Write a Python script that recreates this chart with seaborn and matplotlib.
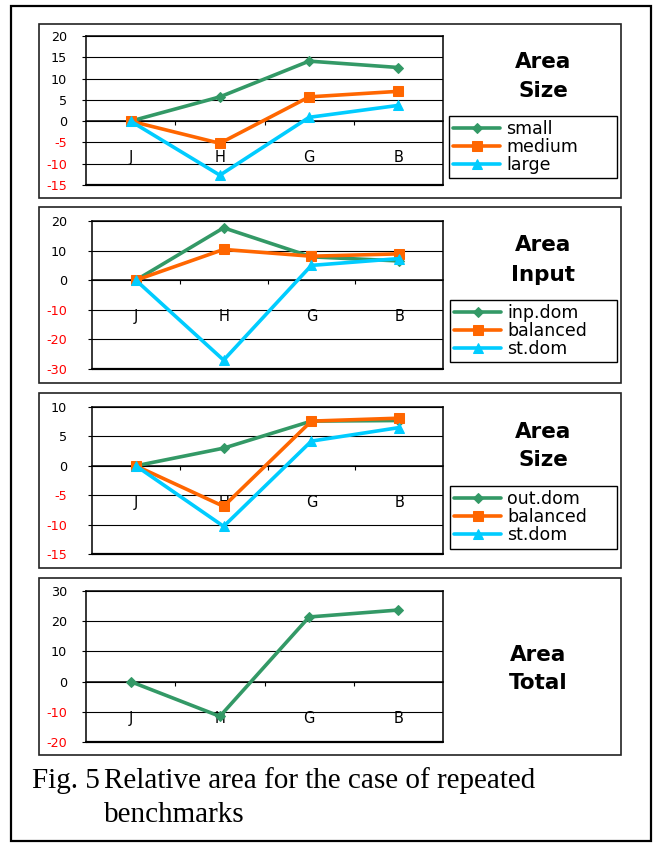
import numpy as np
import pandas as pd
import matplotlib
matplotlib.use("Agg")
import matplotlib.pyplot as plt
import seaborn as sns
from matplotlib.patches import Rectangle

# ---------------- data ----------------
categories = ["J", "H", "G", "B"]

size_small = [0, 5.7, 14.1, 12.6]
size_medium = [0, -5.2, 5.7, 7.0]
size_large = [0, -12.7, 0.9, 3.7]

input_inp_dom = [0, 17.7, 7.9, 6.5]
input_balanced = [0, 10.4, 8.1, 8.9]
input_st_dom = [0, -27.0, 5.0, 7.3]

output_out_dom = [0, 3.0, 7.6, 7.7]
output_balanced = [0, -6.9, 7.6, 8.1]
output_st_dom = [0, -10.3, 4.2, 6.5]

area_total = [0, -11.5, 21.4, 23.7]

yticks_size = [-15, -10, -5, 0, 5, 10, 15, 20]
yticks_input = [-30, -20, -10, 0, 10, 20]
yticks_output = [-15, -10, -5, 0, 5, 10]
yticks_total = [-20, -10, 0, 10, 20, 30]

titles = [("Area", "Size"), ("Area", "Input"), ("Area", "Size"), ("Area", "Total")]
caption_lead = "Fig. 5"
caption_line1 = "Relative area for the case of repeated"
caption_line2 = "benchmarks"

# ---------------- style ----------------
GREEN, ORANGE, CYAN = "#339966", "#FF6600", "#00CCFF"
sns.set_style("white")
plt.rcParams["font.family"] = ["DejaVu Sans"]
plt.rcParams["text.color"] = "black"
plt.rcParams["xtick.color"] = "black"
plt.rcParams["ytick.color"] = "black"
plt.rcParams["axes.labelcolor"] = "black"
plt.rcParams["axes.edgecolor"] = "black"

W, H = 654, 843
fig = plt.figure(figsize=(W / 100, H / 100), dpi=100)
fig.patch.set_facecolor("white")


def fx(x):
    return x / W


def fy(y):
    return 1 - y / H


def add_axes(l, t, r, b):
    return fig.add_axes([fx(l), fy(b), (r - l) / W, (b - t) / H])


def draw_panel(ax, series, yticks, left_px):
    for name, vals, color, marker, ms in series:
        df = pd.DataFrame({"pos": np.arange(len(categories)), "value": vals})
        sns.lineplot(data=df, x="pos", y="value", ax=ax, color=color,
                     marker=marker, markersize=ms, markeredgecolor=color,
                     markerfacecolor=color, lw=2.6, label=name, sort=False,
                     zorder=4)
    if ax.get_legend() is not None:
        ax.get_legend().remove()
    ax.set_xlim(-0.5, 3.5)
    ax.set_ylim(yticks[0], yticks[-1])
    ax.set_xlabel("")
    ax.set_ylabel("")
    ax.set_yticks(yticks)
    ax.set_yticklabels([str(t) for t in yticks])
    for lbl, t in zip(ax.get_yticklabels(), yticks):
        lbl.set_color("#FF0000" if t < 0 else "black")
    ax.grid(axis="y", color="black", lw=0.8)
    ax.set_axisbelow(True)
    # category axis crossing at zero
    ax.spines["bottom"].set_position(("data", 0))
    for s in ax.spines.values():
        s.set_color("black")
        s.set_linewidth(1.1)
    # bottom edge of the plot-area border
    ax.axhline(yticks[0], color="black", lw=1.6, clip_on=False, zorder=5)
    ax.set_xticks(range(len(categories)))
    ax.set_xticklabels(categories)
    ax.set_xticks([0.5, 1.5, 2.5], minor=True)
    ax.tick_params(axis="x", which="major", bottom=True, length=0, pad=21,
                   labelsize=10.5, labelcolor="black")
    ax.tick_params(axis="x", which="minor", bottom=True, length=3,
                   width=0.8, direction="out")
    ticklen_px = 4
    pad_px = left_px - 67 - ticklen_px
    ax.tick_params(axis="y", left=True, length=3, width=0.8, direction="out",
                   pad=pad_px * 0.72, labelsize=9.2)


def add_legend(ax, box):
    l, t, r, b = box
    handles, labels = ax.get_legend_handles_labels()
    leg = fig.legend(handles, labels, loc="center",
                     bbox_to_anchor=(fx(l), fy(b), (r - l) / W, (b - t) / H),
                     mode="expand", fontsize=12.5, frameon=True,
                     fancybox=False, framealpha=1, edgecolor="black",
                     handlelength=2.7, handletextpad=0.35, labelspacing=0.0,
                     borderpad=0.25, borderaxespad=0, numpoints=1)
    leg.get_frame().set_linewidth(1.0)
    for t in leg.get_texts():
        t.set_color("black")


def add_title(cx, y1, y2, pair):
    fig.text(fx(cx), fy(y1), pair[0], ha="center", va="center",
             fontsize=15.5, fontweight="bold", color="black")
    fig.text(fx(cx), fy(y2), pair[1], ha="center", va="center",
             fontsize=15.5, fontweight="bold", color="black")


# outer frame
fig.add_artist(Rectangle((fx(11), fy(841)), 640 / W, 835 / H, fill=False,
                         edgecolor="black", lw=1.6, transform=fig.transFigure))

panel_boxes = [(39, 24, 621, 198), (39, 207, 621, 383),
               (39, 393, 621, 568), (39, 578, 621, 755)]
for (l, t, r, b) in panel_boxes:
    fig.add_artist(Rectangle((fx(l), fy(b)), (r - l) / W, (b - t) / H,
                             fill=False, edgecolor="#222222", lw=1.2,
                             transform=fig.transFigure))

# panel 1
ax1 = add_axes(86, 36, 443, 185)
draw_panel(ax1, [("small", size_small, GREEN, "D", 5),
                 ("medium", size_medium, ORANGE, "s", 6.5),
                 ("large", size_large, CYAN, "^", 7.5)], yticks_size, 86)
add_legend(ax1, (449, 113, 617, 181))
add_title(543, 62, 91, titles[0])

# panel 2
ax2 = add_axes(92, 221, 443, 369)
draw_panel(ax2, [("inp.dom", input_inp_dom, GREEN, "D", 5),
                 ("balanced", input_balanced, ORANGE, "s", 6.5),
                 ("st.dom", input_st_dom, CYAN, "^", 7.5)], yticks_input, 92)
add_legend(ax2, (450, 297, 617, 365))
add_title(543, 245, 275, titles[1])

# panel 3
ax3 = add_axes(92, 407, 443, 554)
draw_panel(ax3, [("out.dom", output_out_dom, GREEN, "D", 5),
                 ("balanced", output_balanced, ORANGE, "s", 6.5),
                 ("st.dom", output_st_dom, CYAN, "^", 7.5)], yticks_output, 92)
add_legend(ax3, (450, 483, 617, 552))
add_title(543, 432, 460, titles[2])

# panel 4
ax4 = add_axes(86, 591, 443, 742)
draw_panel(ax4, [("total", area_total, GREEN, "D", 5)], yticks_total, 86)
add_title(538, 655, 683, titles[3])

# caption
serif = ["Liberation Serif", "DejaVu Serif"]
for x, y, s in [(32, 788, caption_lead), (104, 788, caption_line1),
                (104, 822, caption_line2)]:
    fig.text(fx(x), fy(y), s, ha="left", va="baseline", fontsize=21,
             family=serif, color="black")

fig.savefig("out.png", dpi=100, facecolor="white")
